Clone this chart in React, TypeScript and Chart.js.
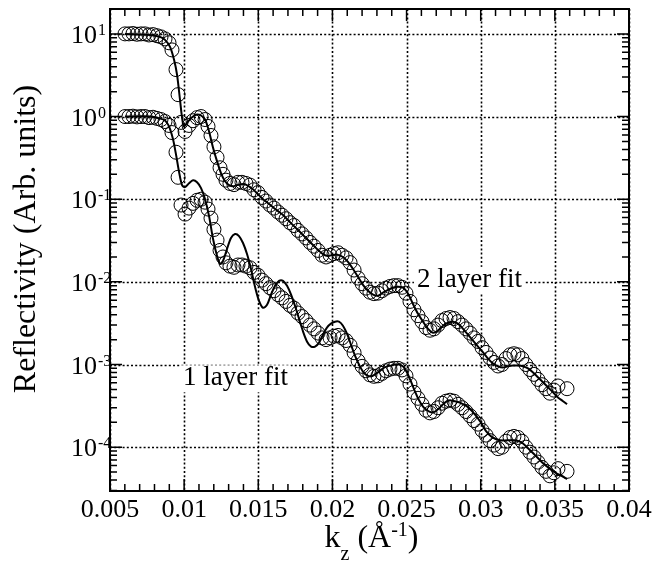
import React, { useEffect, useRef } from "react";
import { Chart, registerables } from "chart.js";
Chart.register(...registerables);

// ---- data ----
const kData = [
  0.00601, 0.00628, 0.00655, 0.00682, 0.00709, 0.00736, 0.00763, 0.0079, 0.00817, 0.00844,
  0.00871, 0.00898, 0.00918, 0.00945, 0.00959, 0.00979, 0.01006, 0.01033, 0.0106, 0.01087,
  0.01114, 0.01141, 0.01161, 0.01181, 0.01201, 0.01222, 0.01242, 0.01262, 0.01282, 0.01309,
  0.01336, 0.01363, 0.0139, 0.01417, 0.01444, 0.01471, 0.01498, 0.01525, 0.01552, 0.01579,
  0.01606, 0.01633, 0.0166, 0.01687, 0.01714, 0.01741, 0.01768, 0.01795, 0.01822, 0.01849,
  0.01876, 0.01903, 0.0193, 0.01957, 0.01984, 0.02011, 0.02038, 0.02065, 0.02092, 0.02119,
  0.02146, 0.02173, 0.022, 0.02226, 0.02253, 0.0228, 0.02307, 0.02334, 0.02361, 0.02388,
  0.02415, 0.02442, 0.02469, 0.02496, 0.02523, 0.0255, 0.02577, 0.02604, 0.02631, 0.02658,
  0.02685, 0.02712, 0.02739, 0.02766, 0.02793, 0.0282, 0.02847, 0.02874, 0.02901, 0.02928,
  0.02955, 0.02982, 0.03009, 0.03036, 0.03063, 0.0309, 0.03117, 0.03144, 0.03171, 0.03198,
  0.03224, 0.03251, 0.03278, 0.03305, 0.03332, 0.03359, 0.03386, 0.03413, 0.0344, 0.03467,
  0.03494, 0.03521, 0.03582,
];

const data2Layer = [
  10.0, 10.0, 10.1, 9.9, 10.0, 10.0, 9.7, 9.8, 9.5, 9.2,
  8.7, 7.8, 6.4, 3.7, 1.84, 0.85, 0.66, 0.78, 0.89, 0.97,
  1.0, 0.92, 0.76, 0.59, 0.43, 0.32, 0.24, 0.2, 0.17, 0.155,
  0.15, 0.16, 0.16, 0.155, 0.148, 0.13, 0.12, 0.105, 0.095, 0.085,
  0.078, 0.07, 0.064, 0.058, 0.052, 0.048, 0.042, 0.038, 0.034, 0.03,
  0.027, 0.024, 0.021, 0.02, 0.021, 0.022, 0.0225, 0.021, 0.0195, 0.0171,
  0.0139, 0.0111, 0.0095, 0.0084, 0.0075, 0.0072, 0.0073, 0.0078, 0.0084, 0.0088,
  0.009, 0.009, 0.0086, 0.0073, 0.0058, 0.0046, 0.0039, 0.0033, 0.0028, 0.0026,
  0.0027, 0.003, 0.0034, 0.0036, 0.0037, 0.0036, 0.0033, 0.003, 0.0027, 0.0024,
  0.0021, 0.0019, 0.0016, 0.0014, 0.0012, 0.00106, 0.00096, 0.001, 0.00118, 0.00131,
  0.00135, 0.00131, 0.00118, 0.001, 0.00087, 0.00076, 0.00066, 0.00057, 0.00051, 0.00045,
  0.00049, 0.00055, 0.00051,
];

const data1Layer = [
  1.0, 1.0, 1.01, 0.99, 1.0, 1.0, 0.97, 0.98, 0.95, 0.92,
  0.87, 0.78, 0.64, 0.37, 0.184, 0.085, 0.066, 0.078, 0.089, 0.097,
  0.1, 0.092, 0.076, 0.059, 0.043, 0.032, 0.024, 0.02, 0.017, 0.0155,
  0.015, 0.016, 0.016, 0.0155, 0.0148, 0.013, 0.012, 0.0105, 0.0095, 0.0085,
  0.0078, 0.007, 0.0064, 0.0058, 0.0052, 0.0048, 0.0042, 0.0038, 0.0034, 0.003,
  0.0027, 0.0024, 0.0021, 0.002, 0.0021, 0.0022, 0.00225, 0.0021, 0.00195, 0.00171,
  0.00139, 0.00111, 0.00095, 0.00084, 0.00075, 0.00072, 0.00073, 0.00078, 0.00084, 0.00088,
  0.0009, 0.0009, 0.00086, 0.00073, 0.00058, 0.00046, 0.00039, 0.00033, 0.00028, 0.00026,
  0.00027, 0.0003, 0.00034, 0.00036, 0.00037, 0.00036, 0.00033, 0.0003, 0.00027, 0.00024,
  0.00021, 0.00019, 0.00016, 0.00014, 0.00012, 1.06e-4, 9.6e-5, 1.0e-4, 1.18e-4, 1.31e-4,
  1.35e-4, 1.31e-4, 1.18e-4, 1.0e-4, 8.7e-5, 7.6e-5, 6.6e-5, 5.7e-5, 5.1e-5, 4.5e-5,
  4.9e-5, 5.5e-5, 5.1e-5,
];

const kFit2 = [
  0.00601, 0.0077, 0.00837, 0.00871, 0.00905, 0.00932, 0.00952, 0.00972, 0.00986, 0.00999,
  0.01026, 0.0106, 0.01087, 0.01114, 0.01141, 0.01168, 0.01195, 0.01222, 0.01249, 0.01276,
  0.01303, 0.0133, 0.01357, 0.01383, 0.0141, 0.01437, 0.01464, 0.01498, 0.01532, 0.01566,
  0.01599, 0.01633, 0.01667, 0.017, 0.01734, 0.01768, 0.01802, 0.01835, 0.01869, 0.01903,
  0.01936, 0.0197, 0.02004, 0.02038, 0.02071, 0.02105, 0.02139, 0.02172, 0.02206, 0.0224,
  0.02274, 0.02307, 0.02341, 0.02375, 0.02409, 0.02442, 0.02476, 0.0251, 0.02543, 0.02577,
  0.02611, 0.02645, 0.02678, 0.02712, 0.02746, 0.0278, 0.02813, 0.02847, 0.02881, 0.02914,
  0.02948, 0.02982, 0.03016, 0.03049, 0.03083, 0.03117, 0.0315, 0.03184, 0.03218, 0.03252,
  0.03285, 0.03319, 0.03353, 0.03386, 0.0342, 0.03454, 0.03488, 0.03521, 0.03555, 0.03582,
];
const fit2Layer = [
  10.0, 9.72, 9.2, 8.47, 6.97, 4.86, 3.21, 1.6, 0.97, 0.76,
  0.87, 1.0, 1.06, 1.03, 0.92, 0.66, 0.42, 0.287, 0.206, 0.165,
  0.148, 0.143, 0.148, 0.152, 0.152, 0.143, 0.132, 0.115, 0.1, 0.0895,
  0.08, 0.0717, 0.0642, 0.0559, 0.0486, 0.0423, 0.0368, 0.0321, 0.0279, 0.0243,
  0.0217, 0.0206, 0.0212, 0.0212, 0.02, 0.0174, 0.0143, 0.0115, 0.0092, 0.0078,
  0.007, 0.0068, 0.0074, 0.008, 0.0085, 0.0087, 0.0085, 0.0072, 0.0054, 0.0041,
  0.0033, 0.0027, 0.00243, 0.00257, 0.00295, 0.0032, 0.0033, 0.00312, 0.0027, 0.0023,
  0.00195, 0.00165, 0.0014, 0.00118, 0.00103, 0.00095, 0.00092, 0.00095, 0.00097, 0.00097,
  0.00095, 0.0009, 0.0008, 0.0007, 0.00061, 0.00053, 0.00046, 0.0004, 0.00036, 0.00033,
];

const kFit1 = [
  0.00601, 0.0077, 0.00837, 0.00871, 0.00898, 0.00925, 0.00945, 0.00965, 0.00986, 0.01006,
  0.01033, 0.0106, 0.01087, 0.01114, 0.01141, 0.01168, 0.01195, 0.01222, 0.01242, 0.01262,
  0.01289, 0.01316, 0.01343, 0.0137, 0.01397, 0.01424, 0.01451, 0.01478, 0.01505, 0.01532,
  0.01559, 0.01586, 0.01613, 0.0164, 0.01667, 0.01694, 0.01721, 0.01748, 0.01775, 0.01802,
  0.01829, 0.01856, 0.01883, 0.0191, 0.01936, 0.01963, 0.0199, 0.02017, 0.02044, 0.02071,
  0.02098, 0.02125, 0.02152, 0.02179, 0.02206, 0.02233, 0.0226, 0.02287, 0.02314, 0.02341,
  0.02368, 0.02395, 0.02422, 0.02449, 0.02476, 0.02503, 0.0253, 0.02557, 0.02584, 0.02611,
  0.02638, 0.02665, 0.02692, 0.02719, 0.02746, 0.02773, 0.028, 0.02854, 0.02908, 0.02955,
  0.03, 0.03036, 0.03076, 0.0313, 0.03177, 0.03224, 0.03272, 0.03319, 0.03366, 0.03413,
  0.03461, 0.03508, 0.03548, 0.03582,
];
const fit1Layer = [
  1.0, 1.0, 0.946, 0.895, 0.76, 0.53, 0.348, 0.217, 0.148, 0.14,
  0.156, 0.169, 0.16, 0.136, 0.1, 0.0624, 0.033, 0.0206, 0.0165, 0.0179,
  0.025, 0.0339, 0.0379, 0.0358, 0.0295, 0.0217, 0.0143, 0.0087, 0.0059, 0.00486,
  0.00528, 0.007, 0.00895, 0.0103, 0.0103, 0.00895, 0.007, 0.0051, 0.00358, 0.0025,
  0.00189, 0.00165, 0.00165, 0.00184, 0.0023, 0.0028, 0.00312, 0.0033, 0.0033, 0.00295,
  0.00236, 0.00174, 0.00128, 0.001, 0.00082, 0.00074, 0.00072, 0.00076, 0.00082, 0.0009,
  0.00095, 0.00097, 0.001, 0.001, 0.00095, 0.0008, 0.00062, 0.00047, 0.00037, 0.00031,
  0.00028, 0.000264, 0.00027, 0.000295, 0.00033, 0.00036, 0.000368, 0.000348, 0.000312, 0.000257,
  0.0002, 0.000156, 0.000132, 0.000121, 0.000121, 0.000121, 0.000115, 9.73e-5, 8.02e-5, 6.59e-5,
  5.58e-5, 4.86e-5, 4.48e-5, 4.11e-5,
];

const xTicks = [0.005, 0.01, 0.015, 0.02, 0.025, 0.03, 0.035, 0.04];
const xTickLabels = ["0.005", "0.01", "0.015", "0.02", "0.025", "0.03", "0.035", "0.04"];
const yDecadeExponents = [-4, -3, -2, -1, 0, 1];
const annotationTexts = ["2 layer fit", "1 layer fit"];
const annotationK = [0.0257, 0.00992];
const annotationR = [0.0087, 5.6e-4];

const X_MIN = 0.005, X_MAX = 0.04, Y_MIN = 2.95e-5, Y_MAX = 20;
const FONT = '"Liberation Serif", "Times New Roman", Times, serif';

const toXY = (xs: number[], ys: number[]) => xs.map((x, i) => ({ x, y: ys[i] }));

const decorPlugin = {
  id: "decor",
  beforeDatasetsDraw(chart: any) {
    const { ctx, chartArea: a, scales } = chart;
    const x = scales.x, y = scales.y;
    ctx.save();
    // dotted grid
    ctx.strokeStyle = "#000";
    ctx.lineWidth = 1.6;
    ctx.setLineDash([2, 2.2]);
    for (const v of xTicks) {
      const px = Math.round(x.getPixelForValue(v)) + 0.5;
      ctx.beginPath(); ctx.moveTo(px, a.top); ctx.lineTo(px, a.bottom); ctx.stroke();
    }
    for (const e of yDecadeExponents) {
      const py = Math.round(y.getPixelForValue(Math.pow(10, e))) + 0.5;
      ctx.beginPath(); ctx.moveTo(a.left, py); ctx.lineTo(a.right, py); ctx.stroke();
    }
    ctx.setLineDash([]);
    // annotations with white boxes
    ctx.font = `27px ${FONT}`;
    ctx.textBaseline = "alphabetic";
    ctx.textAlign = "left";
    annotationTexts.forEach((t, i) => {
      const px = x.getPixelForValue(annotationK[i]);
      const py = y.getPixelForValue(annotationR[i]);
      const w = ctx.measureText(t).width;
      ctx.fillStyle = "#fff";
      ctx.fillRect(px - 3, py - 20, w + 6, 27);
      ctx.fillStyle = "#000";
      ctx.fillText(t, px, py);
    });
    ctx.restore();
  },
  afterDraw(chart: any) {
    const { ctx, chartArea: a, scales } = chart;
    const x = scales.x, y = scales.y;
    ctx.save();
    ctx.strokeStyle = "#000";
    ctx.fillStyle = "#000";
    // inward ticks
    ctx.lineWidth = 1.5;
    ctx.beginPath();
    for (let i = 5; i <= 40; i++) {
      const v = i / 1000;
      const px = x.getPixelForValue(v);
      const major = i % 5 === 0;
      const len = major ? 12 : 7;
      ctx.moveTo(px, a.bottom); ctx.lineTo(px, a.bottom - len);
      ctx.moveTo(px, a.top); ctx.lineTo(px, a.top + len);
    }
    for (let d = -5; d <= 1; d++) {
      for (let m = 1; m <= 9; m++) {
        const v = m * Math.pow(10, d);
        if (v < Y_MIN || v > Y_MAX) continue;
        const py = y.getPixelForValue(v);
        const len = m === 1 ? 12 : 7;
        ctx.moveTo(a.left, py); ctx.lineTo(a.left + len, py);
        ctx.moveTo(a.right, py); ctx.lineTo(a.right - len, py);
      }
    }
    ctx.stroke();
    // frame
    ctx.lineWidth = 2;
    ctx.strokeRect(a.left, a.top, a.right - a.left, a.bottom - a.top);

    // x tick labels
    ctx.font = `26px ${FONT}`;
    ctx.textAlign = "center";
    ctx.textBaseline = "alphabetic";
    xTicks.forEach((v, i) => {
      ctx.fillText(xTickLabels[i], x.getPixelForValue(v), a.bottom + 26);
    });
    // y tick labels 10^n
    yDecadeExponents.forEach((e) => {
      const py = y.getPixelForValue(Math.pow(10, e));
      ctx.font = `26px ${FONT}`;
      ctx.textAlign = "right";
      ctx.fillText("10", a.left - 13, py + 9);
      ctx.font = `16px ${FONT}`;
      ctx.textAlign = "left";
      ctx.fillText(String(e), a.left - 12, py + 1);
    });
    // x title k_z (Å^-1)
    const parts = [
      { t: "k", size: 32, dy: 0 },
      { t: "z", size: 20, dy: 13 },
      { t: " (Å", size: 32, dy: 0 },
      { t: "-1", size: 20, dy: -11 },
      { t: ")", size: 32, dy: 0 },
    ];
    let total = 0;
    parts.forEach((p) => { ctx.font = `${p.size}px ${FONT}`; total += ctx.measureText(p.t).width; });
    let cx = (a.left + a.right) / 2 + 2 - total / 2;
    const base = a.bottom + 56;
    ctx.textAlign = "left";
    parts.forEach((p) => {
      ctx.font = `${p.size}px ${FONT}`;
      ctx.fillText(p.t, cx, base + p.dy);
      cx += ctx.measureText(p.t).width;
    });
    // y title
    ctx.translate(35, 239);
    ctx.rotate(-Math.PI / 2);
    ctx.font = `32px ${FONT}`;
    ctx.textAlign = "center";
    ctx.textBaseline = "alphabetic";
    ctx.fillText("Reflectivity (Arb. units)", 0, 0);
    ctx.restore();
  },
};

export default function App() {
  const ref = useRef<HTMLCanvasElement>(null);
  useEffect(() => {
    if (!ref.current) return;
    const circle = {
      pointStyle: "circle",
      pointRadius: 7,
      pointHoverRadius: 7,
      borderColor: "#000",
      backgroundColor: "rgba(0,0,0,0)",
      pointBorderWidth: 1,
      showLine: false,
    };
    const line = {
      showLine: true,
      pointRadius: 0,
      borderColor: "#000",
      borderWidth: 2,
      tension: 0.3,
      fill: false,
    };
    const chart = new Chart(ref.current, {
      type: "scatter",
      data: {
        datasets: [
          { label: "2 layer fit", data: toXY(kFit2, fit2Layer), ...line } as any,
          { label: "1 layer fit", data: toXY(kFit1, fit1Layer), ...line } as any,
          { label: "data (2 layer)", data: toXY(kData, data2Layer), ...circle } as any,
          { label: "data (1 layer)", data: toXY(kData, data1Layer), ...circle } as any,
        ],
      },
      options: {
        responsive: false,
        animation: false,
        layout: { padding: { left: 110, top: 9, right: 28, bottom: 74 } },
        plugins: { legend: { display: false }, tooltip: { enabled: false } },
        scales: {
          x: {
            type: "linear",
            min: X_MIN,
            max: X_MAX,
            ticks: { display: false },
            grid: { display: false, drawTicks: false },
            border: { display: false },
            afterFit: (s: any) => { s.height = 0; },
          },
          y: {
            type: "logarithmic",
            min: Y_MIN,
            max: Y_MAX,
            ticks: { display: false },
            grid: { display: false, drawTicks: false },
            border: { display: false },
            afterFit: (s: any) => { s.width = 0; },
          },
        },
      } as any,
      plugins: [decorPlugin],
    });
    return () => chart.destroy();
  }, []);
  return (
    <div style={{ position: "fixed", left: 0, top: 0, width: 657, height: 565, background: "#fff" }}>
      <canvas ref={ref} width={657} height={565} style={{ display: "block" }} />
    </div>
  );
}
